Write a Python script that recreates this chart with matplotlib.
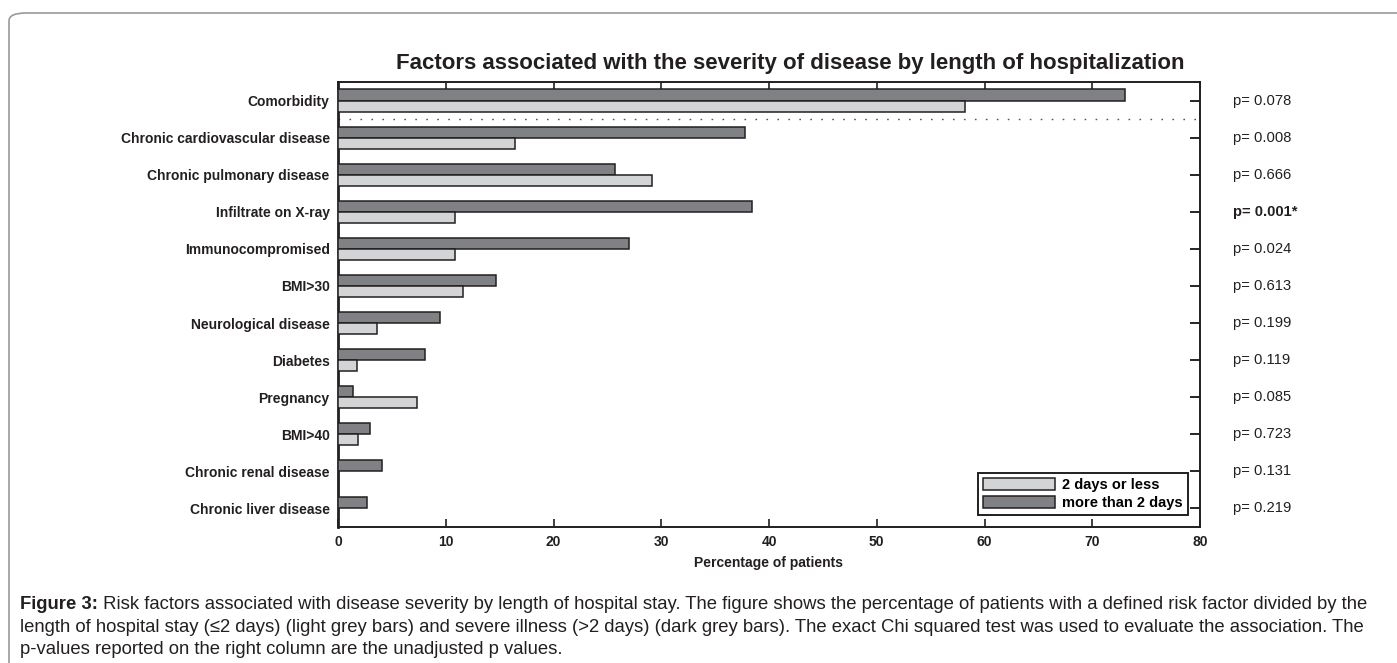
import matplotlib
matplotlib.use("Agg")
import matplotlib.pyplot as plt
import numpy as np
from matplotlib.patches import FancyBboxPatch

plt.rcParams["font.family"] = ["Liberation Sans", "DejaVu Sans"]

# data (percent of patients)
factors = ["Comorbidity", "Chronic cardiovascular disease", "Chronic pulmonary disease",
           "Infiltrate on X-ray", "Immunocompromised", "BMI>30", "Neurological disease",
           "Diabetes", "Pregnancy", "BMI>40", "Chronic renal disease", "Chronic liver disease"]
short_stay = [58.2, 16.4, 29.1, 10.9, 10.9, 11.6, 3.6, 1.8, 7.3, 1.9, 0.0, 0.0]
long_stay = [73.0, 37.8, 25.7, 38.4, 27.0, 14.7, 9.5, 8.1, 1.4, 3.0, 4.1, 2.7]
p_values = ["p= 0.078", "p= 0.008", "p= 0.666", "p= 0.001*", "p= 0.024", "p= 0.613",
            "p= 0.199", "p= 0.119", "p= 0.085", "p= 0.723", "p= 0.131", "p= 0.219"]
significant = [False, False, False, True, False, False, False, False, False, False, False, False]
series_labels = ["2 days or less", "more than 2 days"]

LIGHT = "#d3d4d5"
DARK = "#808184"
EDGE = "#231f20"

W, H = 1397, 663
fig = plt.figure(figsize=(W / 100, H / 100), dpi=100)

# page frame with rounded top-left corner
frame = FancyBboxPatch((9 / W, -0.2), 1.2, 1 - 13 / H + 0.2,
                       boxstyle="round,pad=0,rounding_size=0.012",
                       transform=fig.transFigure, fc="none", ec="#9a9a9a", lw=1.2)
fig.add_artist(frame)

ax = fig.add_axes([338 / W, 1 - 527 / H, (1200 - 338) / W, (527 - 82) / H])

y = np.arange(len(factors))
h = 0.30
ax.barh(y - h / 2, long_stay, height=h, color=DARK, edgecolor=EDGE, lw=1.1,
        label=series_labels[1], zorder=3)
ax.barh(y + h / 2, short_stay, height=h, color=LIGHT, edgecolor=EDGE, lw=1.1,
        label=series_labels[0], zorder=3)

# dotted separator below Comorbidity
ax.axhline(0.5, color="#555555", lw=1.0, ls=(0, (1.2, 6.7)), zorder=2)

ax.set_xlim(0, 80)
ax.set_ylim(len(factors) - 0.5, -0.5)
ax.set_xticks(np.arange(0, 81, 10))
ax.set_yticks(y)
ax.set_yticklabels(factors, fontsize=10, fontweight="bold", color="#231f20")
ax.tick_params(axis="x", direction="in", length=6, width=1.2, top=True,
               labelsize=10, pad=6, colors="#231f20")
for lab in ax.get_xticklabels():
    lab.set_fontweight("bold")
ax.tick_params(axis="y", direction="in", length=7, width=1.2, pad=6,
               left=False, right=True)
for sp in ax.spines.values():
    sp.set_linewidth(1.4)
    sp.set_color("#231f20")
ax.spines["left"].set_linewidth(2)

ax.set_xlabel("Percentage of patients", fontsize=10, fontweight="bold", labelpad=5,
              color="#231f20")

# p-values in right column
for yi, txt, sig in zip(y, p_values, significant):
    ax.text(1.038, yi, txt, transform=ax.get_yaxis_transform(), ha="left", va="center",
            fontsize=10.6, fontweight="bold" if sig else "normal", color="#231f20")

handles = [plt.Rectangle((0, 0), 1, 1, fc=LIGHT, ec=EDGE, lw=1.1),
           plt.Rectangle((0, 0), 1, 1, fc=DARK, ec=EDGE, lw=1.1)]
leg = ax.legend(handles, series_labels, loc="lower right", bbox_to_anchor=(0.986, 0.027),
                borderaxespad=0, fancybox=False, edgecolor="#231f20", framealpha=1,
                handlelength=4.9, handleheight=0.85, labelspacing=0.25, handletextpad=0.5,
                borderpad=0.35, prop={"size": 10.5, "weight": "bold"})
leg.get_frame().set_linewidth(1.4)

fig.text(790 / W, 1 - 63 / H,
         "Factors associated with the severity of disease by length of hospitalization",
         ha="center", va="center", fontsize=16, fontweight="bold", color="#231f20")

# caption
cap_size = 13.35
t1 = fig.text(20 / W, 1 - 609 / H, "Figure 3:", fontsize=cap_size, fontweight="bold",
              color="#231f20", ha="left", va="baseline")
ax.annotate(" Risk factors associated with disease severity by length of hospital stay. "
            "The figure shows the percentage of patients with a defined risk factor divided by the",
            xy=(1, 0), xycoords=t1, ha="left", va="bottom", fontsize=cap_size,
            color="#231f20", annotation_clip=False)
fig.text(20 / W, 1 - 632 / H,
         "length of hospital stay (\u22642 days) (light grey bars) and severe illness (>2 days) "
         "(dark grey bars). The exact Chi squared test was used to evaluate the association. The",
         fontsize=cap_size, color="#231f20", ha="left", va="baseline")
fig.text(20 / W, 1 - 654 / H, "p-values reported on the right column are the unadjusted p values.",
         fontsize=cap_size, color="#231f20", ha="left", va="baseline")

fig.savefig("out.png", dpi=100)
